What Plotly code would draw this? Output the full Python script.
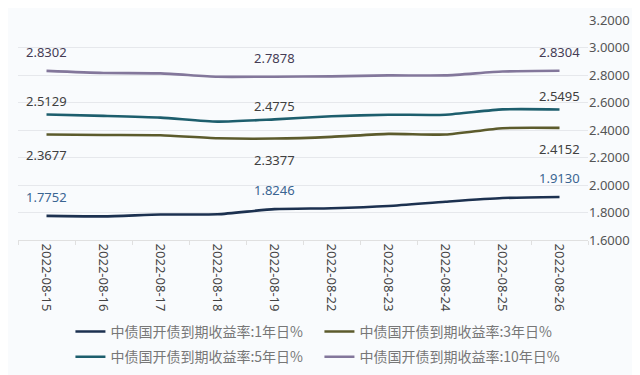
import plotly.graph_objects as go

dates = ["2022-08-15", "2022-08-16", "2022-08-17", "2022-08-18", "2022-08-19",
         "2022-08-22", "2022-08-23", "2022-08-24", "2022-08-25", "2022-08-26"]
y1 = [1.7752, 1.7720, 1.7850, 1.7870, 1.8246, 1.8310, 1.8470, 1.8780, 1.9050, 1.9130]
y3 = [2.3677, 2.3640, 2.3620, 2.3400, 2.3377, 2.3500, 2.3720, 2.3670, 2.4130, 2.4152]
y5 = [2.5129, 2.5030, 2.4900, 2.4610, 2.4775, 2.5000, 2.5110, 2.5110, 2.5500, 2.5495]
y10 = [2.8302, 2.8150, 2.8120, 2.7870, 2.7878, 2.7900, 2.7970, 2.7970, 2.8250, 2.8304]
names = ["中债国开债到期收益率:1年日%", "中债国开债到期收益率:3年日%",
         "中债国开债到期收益率:5年日%", "中债国开债到期收益率:10年日%"]
yticks = [1.6, 1.8, 2.0, 2.2, 2.4, 2.6, 2.8, 3.0, 3.2]
label_idx = [0, 4, 9]

series = [y1, y3, y5, y10]
colors = ["#1c3150", "#5c5b2c", "#1d5e6d", "#83779b"]
label_colors = ["#3a6592", "#404040", "#404040", "#453c55"]
shifts = [19, -21, 13, 19]
legends = ["legend", "legend", "legend2", "legend2"]

fig = go.Figure()
for s, nm, c, lg in zip(series, names, colors, legends):
    fig.add_trace(go.Scatter(x=dates, y=s, name=nm, mode="lines", legend=lg,
                             line=dict(color=c, width=2.6, shape="spline", smoothing=0.6)))

for s, lc, sh in zip(series, label_colors, shifts):
    for i in label_idx:
        fig.add_annotation(x=dates[i], y=s[i], text=f"{s[i]:.4f}", showarrow=False,
                           yshift=sh, font=dict(size=13, color=lc, family="Noto Sans, sans-serif"))

leg_common = dict(orientation="h", xref="paper", yref="paper", x=0.092, xanchor="left",
                  yanchor="top", entrywidth=204, entrywidthmode="pixels",
                  traceorder="normal", itemwidth=30, bgcolor="rgba(0,0,0,0)",
                  font=dict(size=14, color="#777777", family="Noto Sans CJK SC"))

fig.update_layout(
    width=640, height=375,
    margin=dict(l=10, r=60, t=12, b=143, autoexpand=False),
    paper_bgcolor="#f9fbfd", plot_bgcolor="#f9fbfd",
    showlegend=True,
    legend=dict(leg_common, y=-0.345),
    legend2=dict(leg_common, y=-0.46),
    font=dict(family="Noto Sans, sans-serif"),
)
fig.update_xaxes(type="category", range=[-0.5, len(dates) - 0.5], tickangle=90,
                 showgrid=False, showline=True, linecolor="#e0e0e0", ticks="outside",
                 tickson="boundaries", tickcolor="#e0e0e0", ticklen=4,
                 tickfont=dict(size=13, color="#444444"))
fig.update_yaxes(range=[1.6, 3.2], tickvals=yticks, tickformat=".4f", side="right",
                 showgrid=True, gridcolor="#e6e8ec", zeroline=False,
                 tickfont=dict(size=13, color="#555555"))

fig.write_html("out.html")
